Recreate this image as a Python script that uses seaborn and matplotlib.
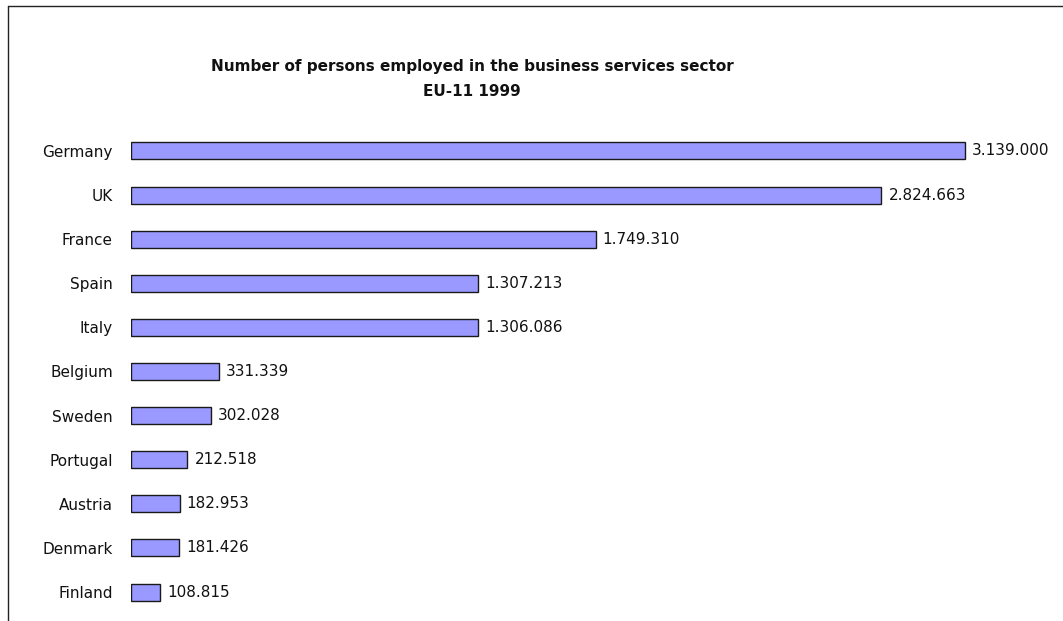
import matplotlib
matplotlib.use("Agg")
import matplotlib.pyplot as plt
from matplotlib.lines import Line2D
import seaborn as sns
import pandas as pd

countries = ["Germany", "UK", "France", "Spain", "Italy", "Belgium",
             "Sweden", "Portugal", "Austria", "Denmark", "Finland"]
employed = [3139000, 2824663, 1749310, 1307213, 1306086, 331339,
            302028, 212518, 182953, 181426, 108815]
title_lines = ["Number of persons employed in the business services sector",
               "EU-11 1999"]

df = pd.DataFrame({"country": countries, "employed": employed})

sns.set_theme(style="white")
plt.rcParams["font.family"] = ["DejaVu Sans"]

W, H = 1063, 621
fig = plt.figure(figsize=(W / 100, H / 100), dpi=100)
fig.patch.set_facecolor("white")

# plot area in pixel terms
left_px, right_px = 131, 1063
top_px, bottom_px = 124.5, 618.5
ax = fig.add_axes([left_px / W, (H - bottom_px) / H,
                   (right_px - left_px) / W, (bottom_px - top_px) / H])

sns.barplot(data=df, x="employed", y="country", orient="h",
            color="#9999FF", saturation=1, width=0.385,
            edgecolor="#1a1a1a", linewidth=1.0, ax=ax)

ax.set_xlim(0, (right_px - left_px) / 834 * 3139000)
ax.set_ylim(10.6, -0.6)
ax.set_xlabel("")
ax.set_ylabel("")
ax.xaxis.set_visible(False)
for s in ax.spines.values():
    s.set_visible(False)
ax.tick_params(axis="y", length=0, pad=13, labelsize=11, labelcolor="#111111")
ax.patch.set_alpha(0)

def fmt(v):
    return f"{v:,}".replace(",", ".")

for i, v in enumerate(employed):
    ax.annotate(fmt(v), xy=(v, i), xytext=(5, 0), textcoords="offset points",
                va="center", ha="left", fontsize=11, color="#111111",
                annotation_clip=False)

fig.text(472 / W, 1 - 67 / H, title_lines[0], ha="center", va="center",
         fontsize=11, fontweight="bold", color="#111111")
fig.text(472 / W, 1 - 91 / H, title_lines[1], ha="center", va="center",
         fontsize=11, fontweight="bold", color="#111111")

# outer frame (left and top edges)
fig.add_artist(Line2D([8 / W, 8 / W], [0, 1 - 6 / H], transform=fig.transFigure,
                      color="#222222", linewidth=1.0))
fig.add_artist(Line2D([8 / W, 1], [1 - 6 / H, 1 - 6 / H], transform=fig.transFigure,
                      color="#222222", linewidth=1.0))

fig.savefig("out.png", dpi=100, facecolor="white")
